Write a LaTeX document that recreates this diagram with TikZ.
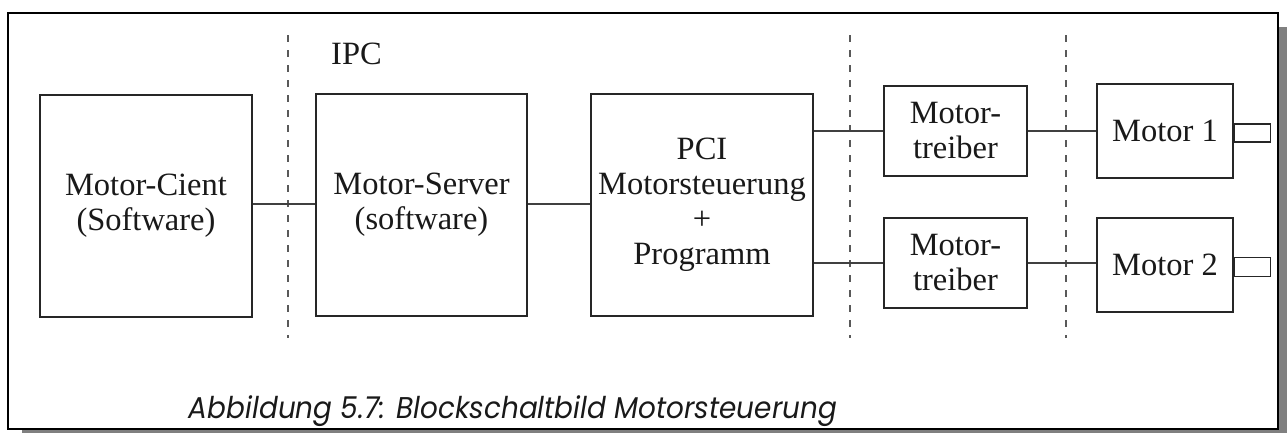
\documentclass[tikz,border=0pt]{standalone}
\usepackage{fontspec}
\setmainfont{Liberation Serif}
\newfontfamily\capfont{Poppins}
\begin{document}
\begin{tikzpicture}[x=1pt,y=-1pt,
  blk/.style={draw=black!85,line width=1.1pt,fill=white,inner sep=0pt,
    align=center,text=black!90,font=\fontsize{32.5}{35}\selectfont},
  wire/.style={draw=black!75,line width=1.1pt},
  sep/.style={draw=black!65,line width=1.1pt,dash pattern=on 7pt off 8pt},
  lbl/.style={inner sep=0pt,text=black!90,font=\fontsize{32.5}{35}\selectfont}]
\useasboundingbox (0,0) rectangle (1287,432);
% page frame with drop shadow
\fill[black!50] (22,27) rectangle (1287,436);
\draw[black,line width=1.6pt,fill=white] (8,13) rectangle (1278,429);
% separators
\draw[sep] (288,35) -- (288,338);
\draw[sep] (850,35) -- (850,338);
\draw[sep] (1066,35) -- (1066,338);
\node[lbl,anchor=base west] (ipc) at (331,64) {IPC};
% blocks
\node[blk,minimum width=212pt,minimum height=222pt] (client) at (146,206) {Motor-Cient\\(Software)};
\node[blk,minimum width=211pt,minimum height=222pt] (server) at (421.5,205) {Motor-Server\\(software)};
\node[blk,minimum width=222pt,minimum height=222pt] (pci) at (702,205) {PCI\\Motorsteuerung\\+\\Programm};
\node[blk,minimum width=143pt,minimum height=90pt] (t1) at (955.5,131) {Motor-\\treiber};
\node[blk,minimum width=143pt,minimum height=90pt] (t2) at (955.5,263) {Motor-\\treiber};
\node[blk,minimum width=136pt,minimum height=94pt] (m1) at (1165,131) {Motor 1};
\node[blk,minimum width=136pt,minimum height=94pt] (m2) at (1165,265) {Motor 2};
\node[blk,minimum width=36pt,minimum height=18pt,anchor=west] (s1) at (m1.east |- 0,133) {};
\node[blk,minimum width=36pt,minimum height=19pt,anchor=west] (s2) at (m2.east |- 0,267) {};
% connections
\draw[wire] (client.east |- 0,204) -- (server.west |- 0,204);
\draw[wire] (server.east |- 0,204) -- (pci.west |- 0,204);
\draw[wire] (pci.east |- t1.west) -- (t1.west);
\draw[wire] (pci.east |- t2.west) -- (t2.west);
\draw[wire] (t1.east) -- (m1.west |- t1.east);
\draw[wire] (t2.east) -- (m2.west |- t2.east);
% caption
\node[inner sep=0pt,anchor=base,text=black!90,font=\capfont\itshape\fontsize{30}{32}\selectfont] (cap) at (513,418) {\scalebox{0.93}[1]{Abbildung 5.7: Blockschaltbild Motorsteuerung}};
\end{tikzpicture}
\end{document}
